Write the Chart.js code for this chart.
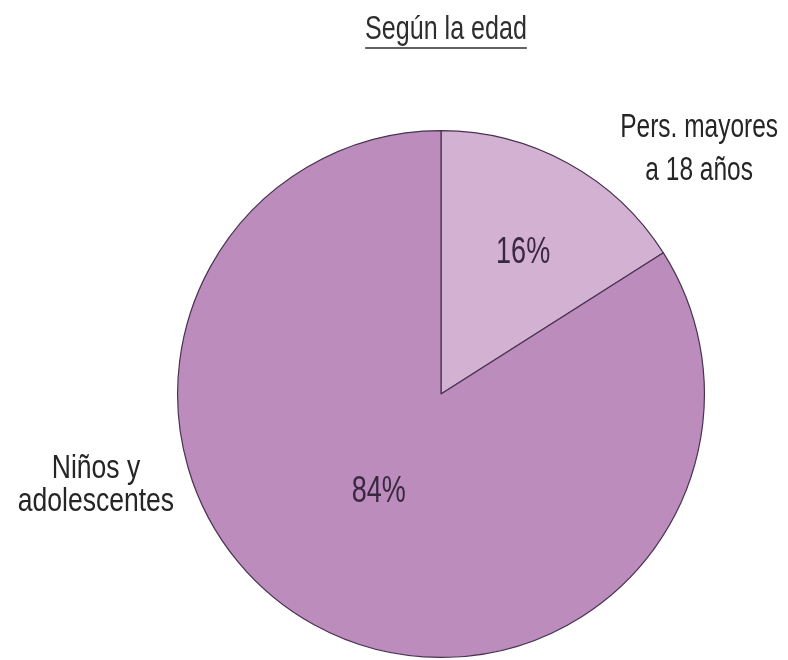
<!DOCTYPE html>
<html>
<head>
<meta charset="utf-8">
<script src="https://cdn.jsdelivr.net/npm/chart.js@4.4.1/dist/chart.umd.min.js"></script>
<style>
  html, body { margin: 0; padding: 0; background: #ffffff; }
  #wrap { width: 788px; height: 660px; position: relative; }
</style>
</head>
<body>
<div id="wrap"><canvas id="chart"></canvas></div>
<script>
// Age groups and their shares (%)
const categories = ['Pers. mayores a 18 años', 'Niños y adolescentes'];
const shares = [16, 84];
const categoryLines = [['Pers. mayores', 'a 18 años'], ['Niños y', 'adolescentes']];
const chartTitle = 'Según la edad';

const sliceColors = ['#d3b1d3', '#bb8cbc'];
const edgeColor = '#4a3352';
const FONT = '"Liberation Sans", Arial, sans-serif';

// Draws horizontally condensed text centered on cx with its baseline at y
function drawCondensed(ctx, text, cx, y, size, color, squeeze) {
  ctx.save();
  ctx.font = size + 'px ' + FONT;
  ctx.fillStyle = color;
  ctx.textAlign = 'center';
  ctx.textBaseline = 'alphabetic';
  ctx.translate(cx, y);
  ctx.scale(squeeze, 1);
  ctx.fillText(text, 0, 0);
  const w = ctx.measureText(text).width * squeeze;
  ctx.restore();
  return w;
}

const annotate = {
  id: 'annotate',
  afterDraw(chart) {
    const ctx = chart.ctx;
    const arcs = chart.getDatasetMeta(0).data;
    const cx = arcs[0].x, cy = arcs[0].y, r = arcs[0].outerRadius;

    // Underlined title
    const tx = cx + 5, ty = 39;
    const tw = drawCondensed(ctx, chartTitle, tx, ty, 33, '#2e2e2e', 0.76);
    ctx.save();
    ctx.strokeStyle = '#2e2e2e';
    ctx.lineWidth = 1.5;
    ctx.beginPath();
    ctx.moveTo(tx - tw / 2, ty + 9);
    ctx.lineTo(tx + tw / 2, ty + 9);
    ctx.stroke();
    ctx.restore();

    // Percentages inside the slices
    const inside = [{ rf: 0.63, da: 0.015 }, { rf: 0.43, da: 0.08 }];
    arcs.forEach((arc, i) => {
      const mid = (arc.startAngle + arc.endAngle) / 2 + inside[i].da;
      const px = cx + Math.cos(mid) * r * inside[i].rf;
      const py = cy + Math.sin(mid) * r * inside[i].rf;
      drawCondensed(ctx, shares[i] + '%', px, py + 13, 36, '#3a2840', 0.75);
    });

    // Category names outside the pie
    const outside = [
      { dx: 0.98, dy: -0.975, gap: 43, sq: 0.72 },
      { dx: -1.31, dy: 0.32, gap: 33, sq: 0.78 }
    ];
    categoryLines.forEach((lines, i) => {
      const ox = cx + outside[i].dx * r;
      const oy = cy + outside[i].dy * r;
      lines.forEach((ln, k) => drawCondensed(ctx, ln, ox, oy + k * outside[i].gap, 34, '#252525', outside[i].sq));
    });
  }
};

new Chart(document.getElementById('chart'), {
  type: 'pie',
  data: {
    labels: categories,
    datasets: [{
      data: shares,
      backgroundColor: sliceColors,
      borderColor: edgeColor,
      borderWidth: 1.2
    }]
  },
  options: {
    responsive: true,
    maintainAspectRatio: false,
    animation: false,
    layout: { padding: { top: 130, bottom: 2, left: 177, right: 83 } },
    plugins: {
      legend: { display: false },
      tooltip: { enabled: false },
      title: { display: false }
    }
  },
  plugins: [annotate]
});
</script>
</body>
</html>
